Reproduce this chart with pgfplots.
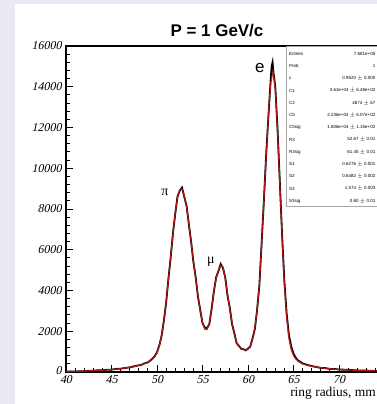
\documentclass[border=0pt]{standalone}
\usepackage{fontspec}
\setmainfont{Liberation Serif}
\newfontfamily\sansf{Liberation Sans}
\newfontfamily\tickfont{Liberation Serif}[FakeSlant=0.22]
\usepackage{pgfplots}
\usepackage{pgfplotstable}
\pgfplotsset{compat=1.18}
\definecolor{bg}{RGB}{233,233,243}
\definecolor{fitred}{RGB}{195,25,25}

\pgfplotstableread{
x y
40 20
40.5 25
41 30
41.5 35
42 45
42.5 55
43 65
43.5 75
44 90
44.5 105
45 120
45.5 140
46 165
46.5 195
47 230
47.5 270
48 320
48.25 350
48.5 390
48.75 430
49 480
49.25 540
49.5 630
49.75 760
50 950
50.25 1280
50.5 1780
50.75 2450
51 3400
51.25 4500
51.5 5650
51.75 6750
52 7800
52.25 8550
52.5 8950
52.75 8980
53 8650
53.25 8100
53.5 7300
53.75 6350
54 5450
54.25 4600
54.5 3750
54.75 3000
55 2450
55.25 2100
55.5 2080
55.75 2400
56 3050
56.25 4000
56.5 4600
56.75 5000
57 5230
57.25 5150
57.5 4600
57.75 3800
58 3100
58.25 2400
58.5 1850
58.75 1450
59 1250
59.25 1160
59.5 1100
59.75 1080
60 1120
60.25 1270
60.5 1600
60.75 2150
61 3000
61.25 4300
61.5 6300
61.75 8500
62 10600
62.25 12700
62.5 14200
62.75 14750
63 13900
63.25 11800
63.5 9200
63.75 6600
64 4300
64.25 2700
64.5 1650
64.75 1100
65 800
65.25 640
65.5 540
65.75 460
66 400
66.5 330
67 280
67.5 240
68 210
68.5 180
69 160
69.5 140
70 125
71 100
72 80
73 65
74 55
75 45
}\fitdata

\pgfplotstableread{
x y
40 15
40.5 30
41 20
41.5 40
42 40
42.5 60
43 60
43.5 85
44 85
44.5 110
45 115
45.5 150
46 160
46.5 200
47 225
47.5 280
48 330
48.25 340
48.5 400
48.75 440
49 470
49.25 560
49.5 650
49.75 780
50 970
50.25 1300
50.5 1760
50.75 2500
51 3380
51.25 4550
51.5 5600
51.75 6800
52 7750
52.25 8600
52.5 8900
52.75 9050
53 8600
53.25 8150
53.5 7250
53.75 6400
54 5400
54.25 4650
54.5 3700
54.75 3050
55 2400
55.25 2180
55.5 2150
55.75 2350
56 3100
56.25 3950
56.5 4650
56.75 4950
57 5300
57.25 5100
57.5 4650
57.75 3750
58 3150
58.25 2350
58.5 1900
58.75 1420
59 1280
59.25 1140
59.5 1120
59.75 1060
60 1150
60.25 1250
60.5 1650
60.75 2100
61 3050
61.25 4250
61.5 6350
61.75 8450
62 10700
62.25 12600
62.5 14400
62.6 15000
62.7 15200
62.8 14700
63 14000
63.25 11900
63.5 9300
63.75 6700
64 4450
64.25 2850
64.5 1800
64.75 1250
65 900
65.25 700
65.5 560
65.75 500
66 420
66.5 350
67 290
67.5 250
68 200
68.5 190
69 150
69.5 150
70 120
71 110
72 75
73 70
74 50
75 50
}\histdata

\begin{document}
\begin{tikzpicture}
\fill[bg] (0,0) rectangle (377bp,404bp);
\fill[white] (15bp,0) rectangle (377bp,400bp);
\begin{scope}
\clip (0,0) rectangle (377bp,404bp);
\begin{axis}[
  at={(66bp,32bp)}, anchor=south west,
  scale only axis, width=318.5bp, height=326bp,
  xmin=40, xmax=75, ymin=0, ymax=16000,
  axis line style={line width=2.2bp},
  xtick={40,45,...,75}, ytick={0,2000,...,16000},
  xticklabels={40,45,50,55,60,65,70,},
  yticklabels={\raisebox{3bp}{0},2000,4000,6000,8000,10000,12000,14000,16000},
  scaled y ticks=false, scaled x ticks=false,
  minor x tick num=4, minor y tick num=4,
  xtick pos=left, ytick pos=left,
  tick align=inside, major tick length=7bp, minor tick length=3.5bp,
  tick style={black, line width=0.9bp},
  tick label style={font={\tickfont\fontsize{12}{12}\selectfont}},
  yticklabel style={xshift=-1bp},
  xticklabel style={yshift=-0.5bp},
  clip=false,
]
\addplot[black, line width=1.8bp] table[x=x,y=y] {\histdata};
\addplot[fitred, line width=1.2bp, opacity=0.9] table[x=x,y=y] {\fitdata};
\node[font=\fontsize{14}{14}\selectfont] at (axis cs:50.88,8830) {π};
\node[font=\fontsize{14}{14}\selectfont] at (axis cs:55.93,5400) {μ};
\node[font=\sansf\fontsize{17}{17}\selectfont] at (axis cs:61.3,14900) {e};
\end{axis}
\draw[gray!70, fill=white, line width=1bp] (286bp,197bp) rectangle (410bp,357bp);
\foreach \lab/\val [count=\i] in {Entries/7.681e+05, Prob/1, c/0.9520 $\pm$ 0.000, C1/3.61e+04 $\pm$ 6.48e+02, C2/4674 $\pm$ 67, C5/2.236e+04 $\pm$ 6.07e+02, C5sig/1.806e+04 $\pm$ 1.15e+02, R3/52.67 $\pm$ 0.01, R3sig/61.45 $\pm$ 0.01, S1/0.6276 $\pm$ 0.001, S2/0.6482 $\pm$ 0.002, S3/1.574 $\pm$ 0.003, S3sig/0.60 $\pm$ 0.01} {
  \node[anchor=west, font=\sansf\fontsize{4.5}{4.5}\selectfont, inner sep=0] at (289bp,{(362.3-12.25*\i)*1bp}) {\lab};
  \node[anchor=east, font=\sansf\fontsize{4.5}{4.5}\selectfont, inner sep=0] at (375.5bp,{(362.3-12.25*\i)*1bp}) {\val};
}
\node[font=\sansf\bfseries\fontsize{17}{17}\selectfont] at (217bp,373bp) {P = 1 GeV/c};
\node[anchor=base east, font=\fontsize{13.5}{13.5}\selectfont, inner sep=0] at (376bp,8bp) {ring radius, mm};
\end{scope}
\pgfresetboundingbox
\useasboundingbox (0,0) rectangle (377bp,404bp);
\end{tikzpicture}
\end{document}
